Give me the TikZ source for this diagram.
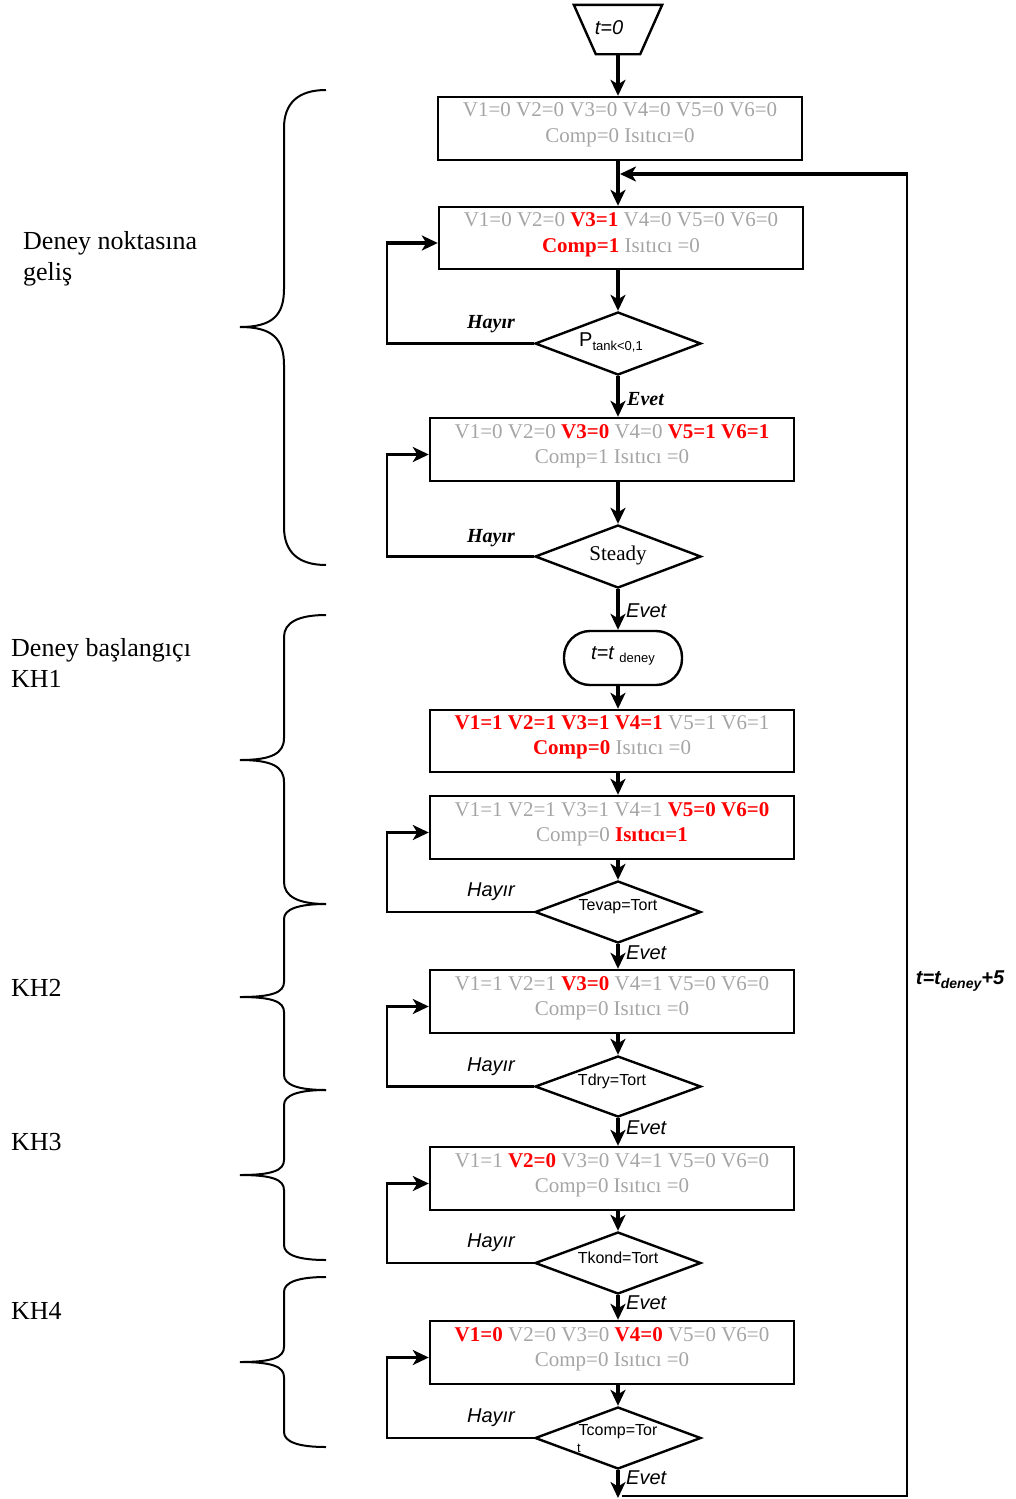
\documentclass[tikz,border=0pt]{standalone}
\usepackage{fontspec}
\setmainfont{Liberation Serif}
\newfontfamily\arialf{Liberation Sans}
\usetikzlibrary{shapes.geometric,arrows.meta}
\definecolor{offgray}{RGB}{165,165,165}
\definecolor{onred}{RGB}{255,0,0}
\newcommand{\onv}[1]{\textcolor{onred}{\textbf{#1}}}
\newcommand{\hbrace}[4]{%
  \draw[bracestyle] (326,#1) .. controls (298,#1) and (284,#1+0.35*#4) .. (284,#1+#4)
    -- (284,#2-#4) .. controls (284,#2-0.3*#4) and (272,#2) .. (240,#2)
    .. controls (272,#2) and (284,#2+0.3*#4) .. (284,#2+#4)
    -- (284,#3-#4) .. controls (284,#3-0.35*#4) and (298,#3) .. (326,#3);}
\begin{document}
\begin{tikzpicture}[x=1pt,y=-1pt,
  box/.style={draw, line width=2.4pt, minimum width=364pt, minimum height=63pt, inner sep=0pt},
  boxtext/.style={text=offgray, font=\fontsize{21}{25.5}\selectfont, align=center, inner sep=0pt},
  dia/.style={draw, diamond, line width=2.4pt, minimum width=166pt, minimum height=63pt, inner sep=0pt, shape aspect=2.63},
  diatext/.style={font=\arialf\fontsize{16}{19}\selectfont, inner sep=0pt},
  main/.style={line width=3.8pt, -{Stealth[length=16pt,width=15pt,inset=4.5pt]}},
  loopthin/.style={line width=2.4pt},
  looparrow/.style={line width=3.8pt, -{Stealth[length=16pt,width=15pt,inset=4.5pt]}},
  bracestyle/.style={line width=2pt},
  hayirT/.style={font=\fontsize{20}{24}\selectfont\bfseries\itshape, inner sep=0pt},
  hayirA/.style={font=\arialf\fontsize{20}{24}\selectfont\itshape, inner sep=0pt},
  sidelabel/.style={font=\fontsize{26}{31}\selectfont, align=left, inner sep=0pt}
]
\useasboundingbox (0,0) rectangle (1015,1499);
\coordinate (lx) at (387,0);
\coordinate (cx) at (618,0);

% start
\node[minimum width=44pt, minimum height=49pt, inner sep=0pt] (t0) at (618,29.5) {};
\draw[line width=2.4pt, line join=miter] ([xshift=-22pt]t0.north west) -- ([xshift=22pt]t0.north east) -- (t0.south east) -- (t0.south west) -- cycle;
\node[font=\arialf\fontsize{20}{24}\selectfont\itshape, inner sep=0pt] (t0t) at (609,28) {t=0};

% boxes
\node[box] (b1) at (620,128.5) {};
\node[boxtext] (b1t) at ([yshift=3.5pt]b1.center) {V1=0 V2=0 V3=0 V4=0 V5=0 V6=0\\Comp=0 Isıtıcı=0};
\node[box, minimum height=62pt] (b2) at (621,238) {};
\node[boxtext] (b2t) at ([yshift=3.5pt]b2.center) {V1=0 V2=0 \onv{V3=1} V4=0 V5=0 V6=0\\\onv{Comp=1} Isıtıcı =0};
\node[dia] (d1) at (618,343.5) {};
\node[inner sep=0pt] (d1t) at (611,342) {\arialf\fontsize{20}{24}\selectfont P\raisebox{-4pt}{\fontsize{13}{15}\selectfont tank<0,1}};
\node[box] (b3) at (612,449.5) {};
\node[boxtext] (b3t) at ([yshift=3.5pt]b3.center) {V1=0 V2=0 \onv{V3=0} V4=0 \onv{V5=1 V6=1}\\Comp=1 Isıtıcı =0};
\node[dia] (d2) at (618,556.5) {};
\node[inner sep=0pt, font=\fontsize{21}{25}\selectfont] (d2t) at (618,555) {Steady};
\node[draw, line width=2.4pt, rounded corners=26pt, minimum width=118pt, minimum height=54pt, inner sep=0pt] (term) at (623,658) {};
\node[inner sep=0pt] (termt) at (623,656) {\arialf\fontsize{20}{24}\selectfont\itshape t=t\upshape\ \raisebox{-3pt}{\fontsize{13}{15}\selectfont deney}};
\node[box, minimum height=62pt] (b4) at (612,741) {};
\node[boxtext] (b4t) at ([yshift=3.5pt]b4.center) {\onv{V1=1 V2=1 V3=1 V4=1} V5=1 V6=1\\\onv{Comp=0} Isıtıcı =0};
\node[box] (b5) at (612,827.5) {};
\node[boxtext] (b5t) at ([yshift=3.5pt]b5.center) {V1=1 V2=1 V3=1 V4=1 \onv{V5=0 V6=0}\\Comp=0 \onv{Isıtıcı=1}};
\node[dia, minimum height=62pt] (d3) at (618,912) {};
\node[diatext] (d3t) at (618,907) {Tevap=Tort};
\node[box] (b6) at (612,1001.5) {};
\node[boxtext] (b6t) at ([yshift=3.5pt]b6.center) {V1=1 V2=1 \onv{V3=0} V4=1 V5=0 V6=0\\Comp=0 Isıtıcı =0};
\node[dia, minimum height=61pt] (d4) at (618,1086.5) {};
\node[diatext] (d4t) at (612,1081) {Tdry=Tort};
\node[box] (b7) at (612,1178.5) {};
\node[boxtext] (b7t) at ([yshift=3.5pt]b7.center) {V1=1 \onv{V2=0} V3=0 V4=1 V5=0 V6=0\\Comp=0 Isıtıcı =0};
\node[dia, minimum height=62pt] (d5) at (618,1263) {};
\node[diatext] (d5t) at (618,1258) {Tkond=Tort};
\node[box] (b8) at (612,1352.5) {};
\node[boxtext] (b8t) at ([yshift=3.5pt]b8.center) {\onv{V1=0} V2=0 V3=0 \onv{V4=0} V5=0 V6=0\\Comp=0 Isıtıcı =0};
\node[dia, minimum height=62pt] (d6) at (618,1438) {};
\node[diatext] (d6t) at (618,1432) {Tcomp=Tor};
\node[diatext, font=\arialf\fontsize{13}{15}\selectfont] (d6t2) at (579,1448) {t};

% main arrows
\draw[main] (t0.south -| cx) -- (b1.north -| cx);
\draw[main] (b1.south -| cx) -- (b2.north -| cx);
\draw[main] (b2.south -| cx) -- (d1.north);
\draw[main] (d1.south) -- (b3.north -| cx);
\draw[main] (b3.south -| cx) -- (d2.north);
\draw[main] (d2.south) -- (term.north -| cx);
\draw[main] (term.south -| cx) -- (b4.north -| cx);
\draw[main] (b4.south -| cx) -- (b5.north -| cx);
\draw[main] (b5.south -| cx) -- (d3.north);
\draw[main] (d3.south) -- (b6.north -| cx);
\draw[main] (b6.south -| cx) -- (d4.north);
\draw[main] (d4.south) -- (b7.north -| cx);
\draw[main] (b7.south -| cx) -- (d5.north);
\draw[main] (d5.south) -- (b8.north -| cx);
\draw[main] (b8.south -| cx) -- (d6.north);
\coordinate (bot) at (618,1498);
\draw[main] (d6.south) -- (bot);

% return loop on the right
\coordinate (bstart) at (622,1496);
\coordinate (br) at (907,1496);
\coordinate (tr) at (907,174);
\coordinate (join) at (620,174);
\draw[line width=2.8pt] (bstart) -- (br) -- ([yshift=1.5pt]tr);
\draw[main] ([xshift=1.4pt]tr) -- (join);
\node[inner sep=0pt] (retlab) at (960,981) {\arialf\bfseries\itshape\fontsize{20}{24}\selectfont t=t\raisebox{-4pt}{\fontsize{14}{16}\selectfont deney}+5};

% no-loops
\foreach \d/\b in {d1/b2,d2/b3,d3/b5,d4/b6,d5/b7,d6/b8}{
  \draw[loopthin] (\d.west) -- (\d.west -| lx) -- ([yshift=-5pt]\b.west -| lx);
  \draw[looparrow] ([yshift=-5pt,xshift=-1.2pt]\b.west -| lx) -- ([yshift=-5pt]\b.west);
}

% labels
\node[hayirT] (h1) at (491,324) {Hayır};
\node[hayirT] (h2) at (491,538) {Hayır};
\node[hayirA] (h3) at (491,892) {Hayır};
\node[hayirA] (h4) at (491,1067) {Hayır};
\node[hayirA] (h5) at (491,1243) {Hayır};
\node[hayirA] (h6) at (491,1418) {Hayır};
\node[hayirT, anchor=west] (e1) at (627,399) {Evet};
\node[hayirA, anchor=west] (e2) at (626,611) {Evet};
\node[hayirA, anchor=west] (e3) at (626,953) {Evet};
\node[hayirA, anchor=west] (e4) at (626,1128) {Evet};
\node[hayirA, anchor=west] (e5) at (626,1303) {Evet};
\node[hayirA, anchor=west] (e6) at (626,1478) {Evet};

% braces and phase labels
\hbrace{90}{327}{565}{38}
\hbrace{615}{760}{904}{22}
\hbrace{904}{997}{1090}{15}
\hbrace{1090}{1175}{1260}{15}
\hbrace{1277}{1362}{1447}{15}
\node[sidelabel, anchor=north west] (s1) at (23,231) {Deney noktasına\\geliş};
\node[sidelabel, anchor=north west] (s2) at (11,638) {Deney başlangıçı\\KH1};
\node[sidelabel, anchor=west] (s3) at (11,988) {KH2};
\node[sidelabel, anchor=west] (s4) at (11,1142) {KH3};
\node[sidelabel, anchor=west] (s5) at (11,1311) {KH4};
\end{tikzpicture}
\end{document}
